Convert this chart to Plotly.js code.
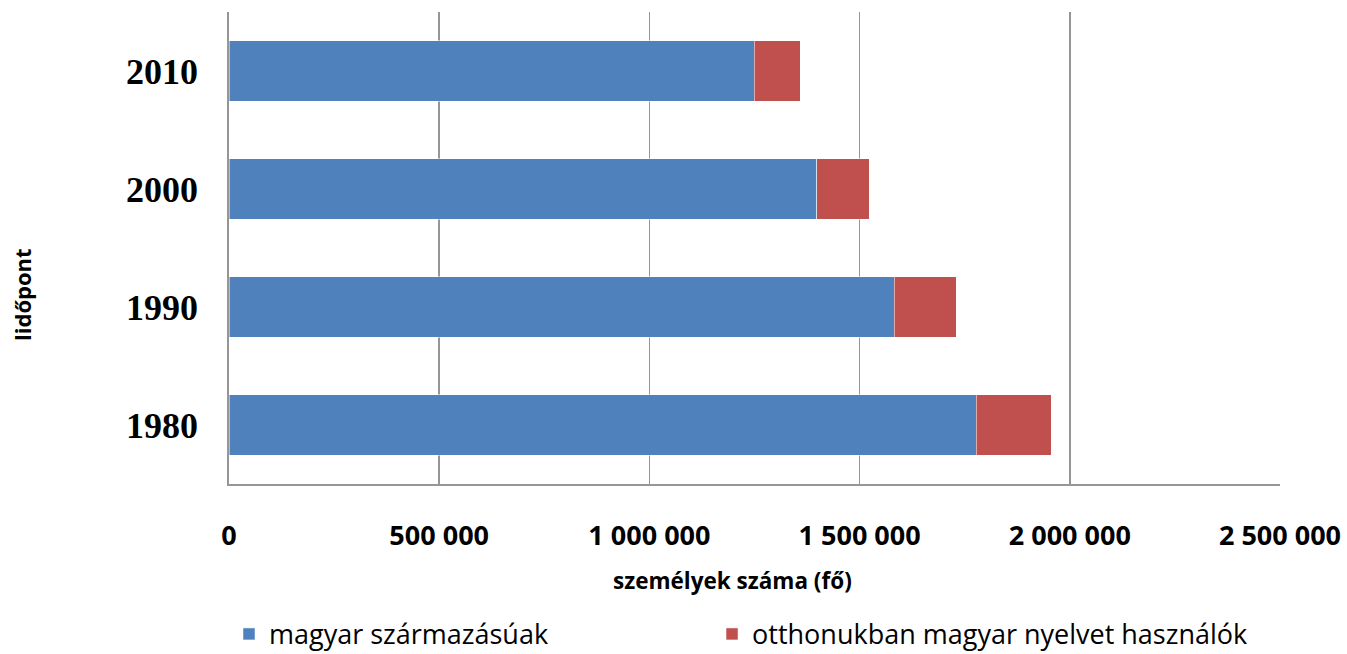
<!DOCTYPE html>
<html>
<head>
<meta charset="utf-8">
<script src="https://cdn.plot.ly/plotly-3.0.1.min.js"></script>
<style>html,body{margin:0;padding:0;background:#fff;}#chart{width:1347px;height:654px;}</style>
</head>
<body>
<div id="chart"></div>
<script>
const years = ['1980', '1990', '2000', '2010'];
const ancestry = [1777000, 1582000, 1398000, 1249000];
const homeSpeakers = [179000, 148000, 125000, 110000];
const seriesNames = ['magyar származásúak', 'otthonukban magyar nyelvet használók'];
const xTicks = [0, 500000, 1000000, 1500000, 2000000, 2500000];
const xTitle = 'személyek száma (fő)';
const yTitle = 'lidőpont';

const traces = [
  {type: 'bar', orientation: 'h', y: years, x: ancestry, name: seriesNames[0], legend: 'legend',
   marker: {color: '#4F81BD', line: {color: 'rgba(255,255,255,0.5)', width: 1}}, hoverinfo: 'x+name'},
  {type: 'bar', orientation: 'h', y: years, x: homeSpeakers, name: seriesNames[1], legend: 'legend2',
   marker: {color: '#C0504D', line: {color: 'rgba(255,255,255,0.5)', width: 1}}, hoverinfo: 'x+name'}
];

const legendFont = {family: '"Open Sans", sans-serif', size: 27, color: '#000'};
const titleFont = {family: '"Open Sans", sans-serif', size: 22, color: '#000', weight: 'bold'};

const layout = {
  width: 1347, height: 654,
  barmode: 'stack', bargap: 0.49,
  separators: ', ',
  paper_bgcolor: '#fff', plot_bgcolor: '#fff',
  margin: {l: 229, r: 67, t: 12, b: 170, autoexpand: false},
  font: {family: '"Open Sans", sans-serif', color: '#000'},
  xaxis: {
    range: [0, 2500000], tickvals: xTicks, tickformat: ',d',
    showgrid: true, gridcolor: '#969696', gridwidth: 1.8,
    showline: true, linecolor: '#969696', linewidth: 1.8,
    zeroline: false,
    ticks: 'outside', ticklen: 27, tickcolor: 'rgba(0,0,0,0)',
    tickfont: {family: '"Open Sans", sans-serif', size: 27, color: '#000', weight: 'bold'},
    automargin: false, fixedrange: true
  },
  yaxis: {
    type: 'category', categoryorder: 'array', categoryarray: years,
    showgrid: false, showline: true, linecolor: '#969696', linewidth: 1.8,
    ticks: 'outside', ticklen: 22, tickcolor: 'rgba(0,0,0,0)',
    tickfont: {family: '"Liberation Serif", serif', size: 36, color: '#000', weight: 'bold'},
    automargin: false, fixedrange: true
  },
  annotations: [
    {text: yTitle, textangle: -90, xref: 'paper', yref: 'paper',
     x: -0.197, y: 0.4025, xanchor: 'center', yanchor: 'middle', showarrow: false, font: titleFont},
    {text: xTitle, xref: 'paper', yref: 'paper',
     x: 0.4795, y: -0.2034, xanchor: 'center', yanchor: 'middle', showarrow: false,
     font: {family: '"Open Sans", sans-serif', size: 22.5, color: '#000', weight: 'bold'}}
  ],
  legend: {
    orientation: 'h', x: 0, xanchor: 'left', y: 0.03, yref: 'container', yanchor: 'middle',
    font: legendFont, traceorder: 'normal', bgcolor: 'rgba(0,0,0,0)'
  },
  legend2: {
    orientation: 'h', x: 0.4596, xanchor: 'left', y: 0.03, yref: 'container', yanchor: 'middle',
    font: legendFont, traceorder: 'normal', bgcolor: 'rgba(0,0,0,0)'
  },
  showlegend: true
};

Plotly.newPlot('chart', traces, layout, {displayModeBar: false, staticPlot: true});
</script>
</body>
</html>
